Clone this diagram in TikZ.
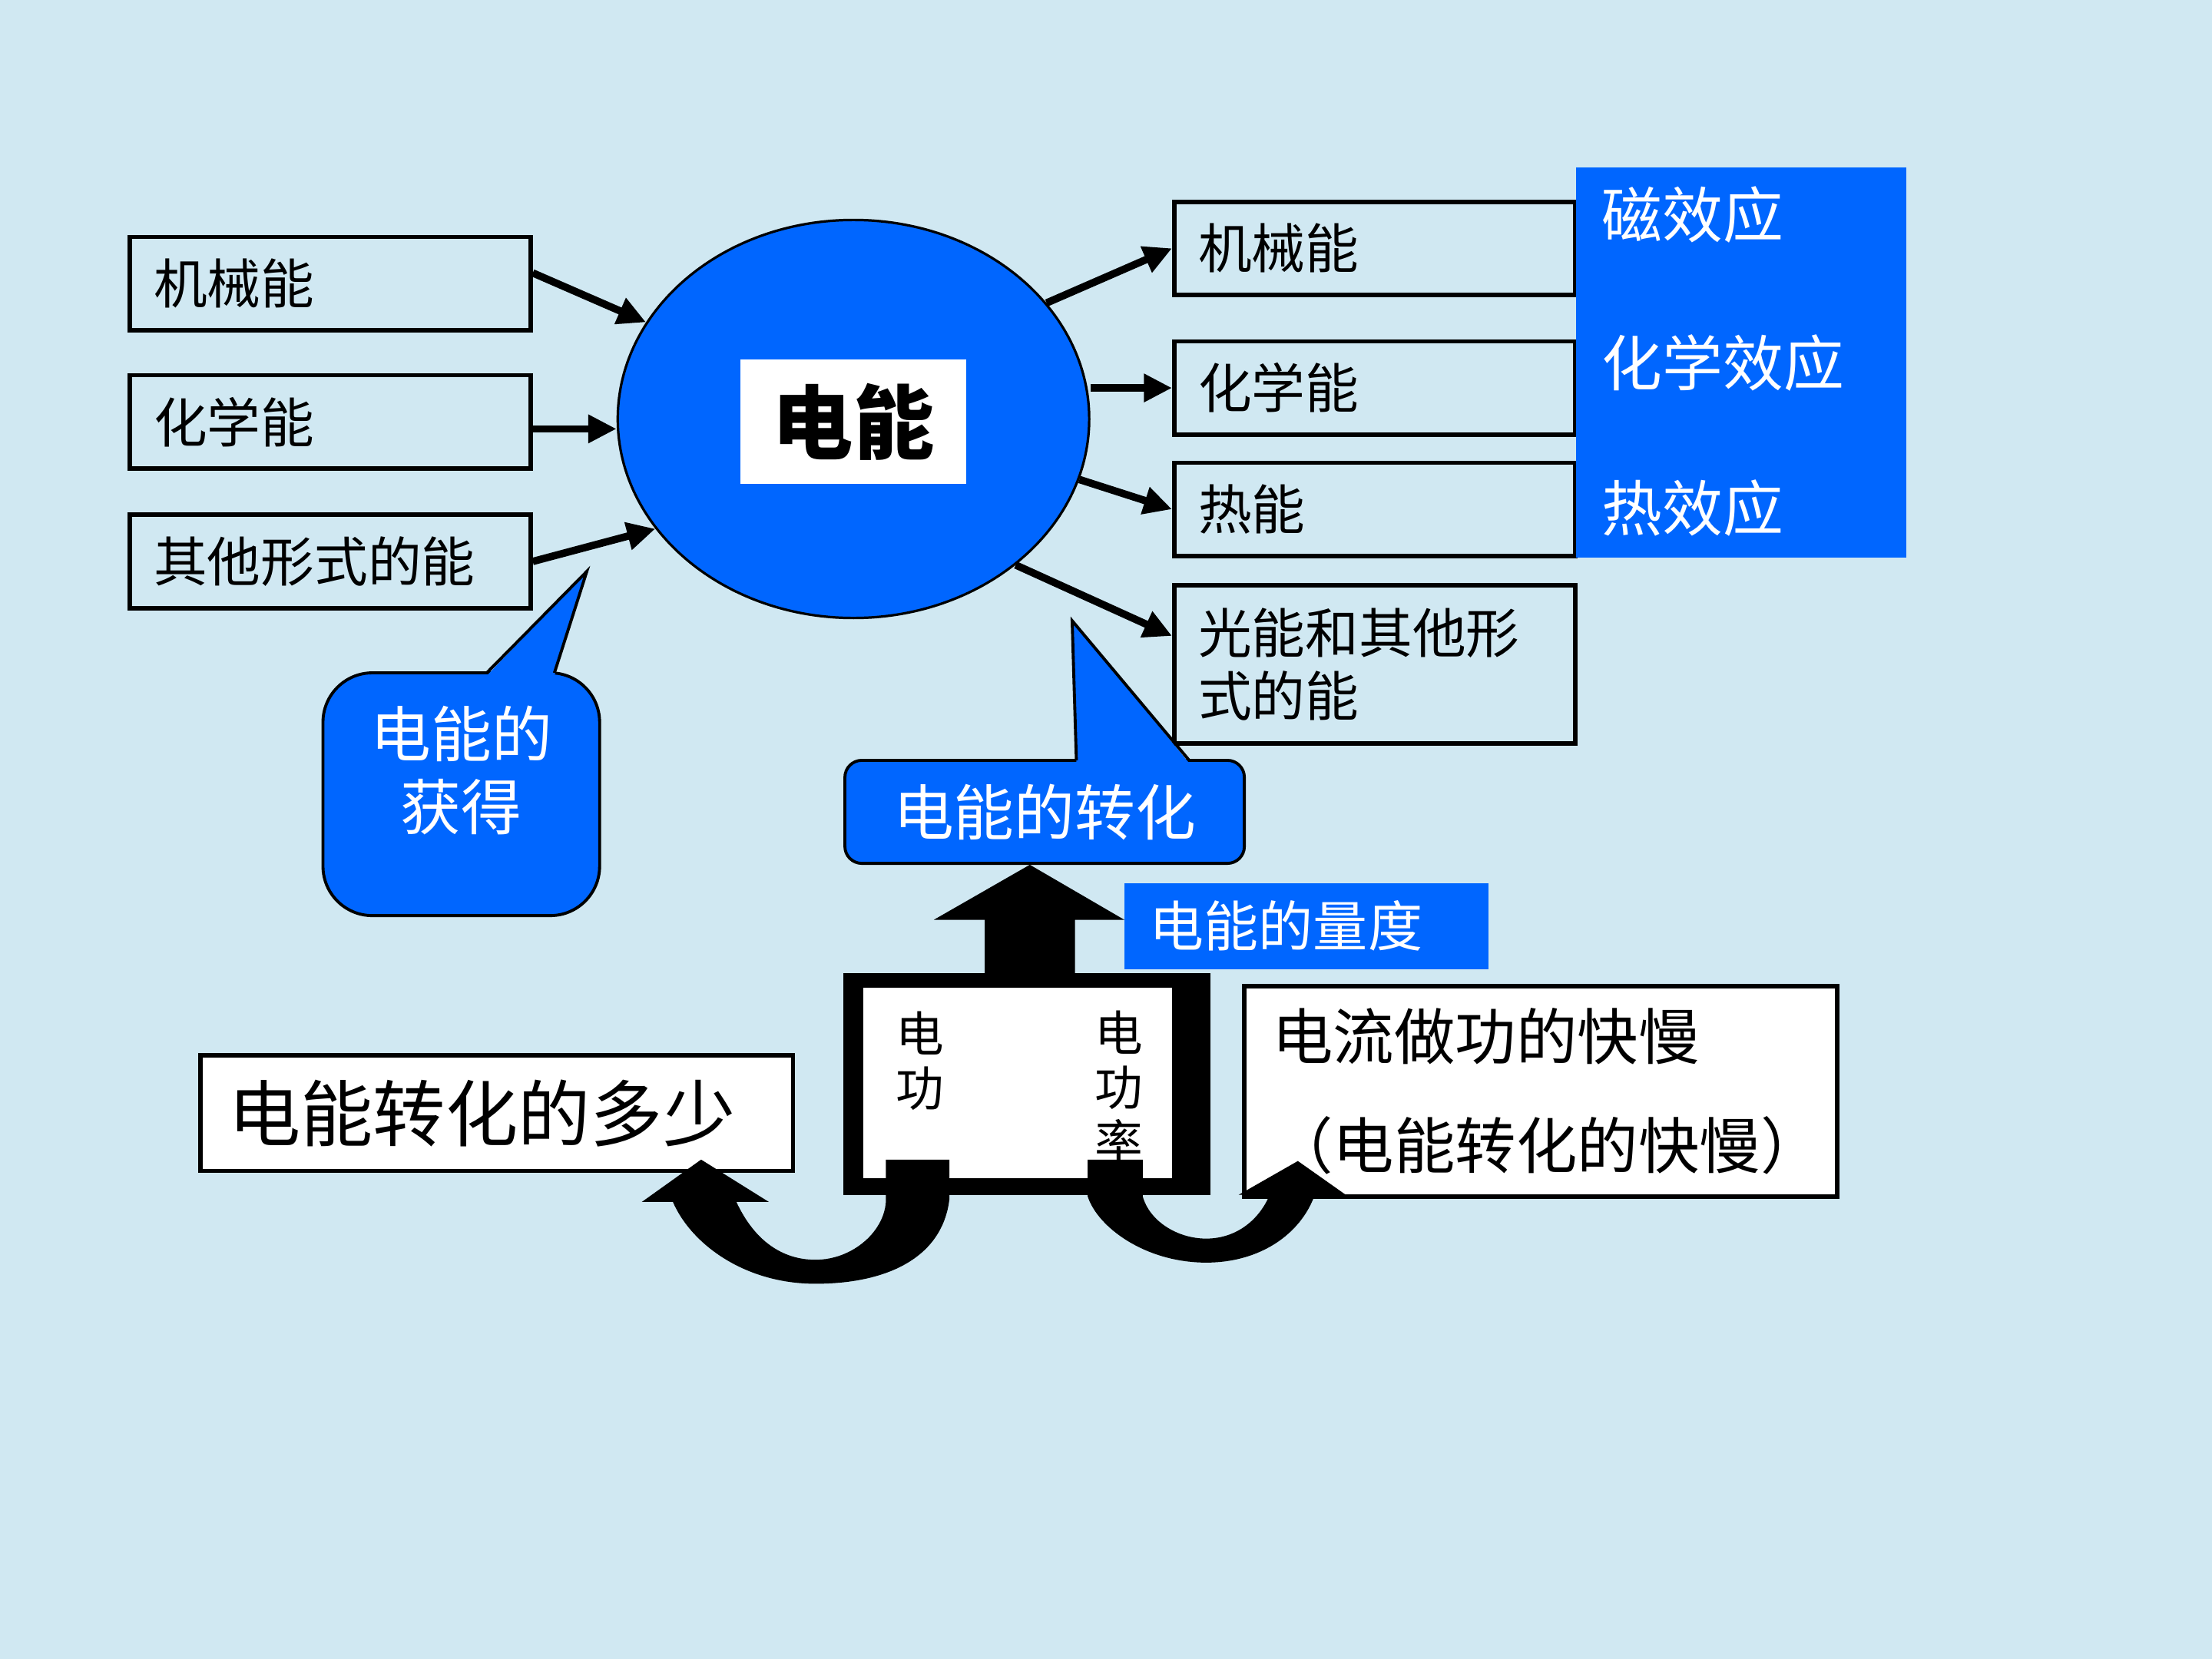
\documentclass[tikz,border=0pt]{standalone}
\usepackage{fontspec}
\usepackage{tikz}
\usetikzlibrary{arrows.meta,shapes.geometric,positioning}
\newfontfamily\cjk{Noto Sans CJK SC}
\definecolor{bgblue}{RGB}{208,232,242}
\definecolor{eblue}{RGB}{0,102,255}

\begin{document}
\begin{tikzpicture}[x=0.01cm,y=-0.01cm,
	every node/.style={font=\cjk},
	ebox/.style={draw=black, line width=0.9pt, minimum height=0.66cm, text width=2.5cm, inner xsep=0.17cm, align=left, font=\cjk\fontsize{10.8}{12.8}\selectfont},
	wbox/.style={draw=black, fill=white, line width=0.9pt, inner xsep=0.2cm, align=left},
	conn/.style={-{Triangle[length=0.2cm,width=0.19cm]}, line width=1.5pt},
	callbox/.style={draw=black, line width=0.6pt, fill=eblue, rounded corners=0.35cm},
	wtext/.style={inner sep=0pt, text=white, font=\cjk\fontsize{12.2}{14.8}\selectfont},
	vtext/.style={inner sep=0pt, align=center, font=\cjk\fontsize{9.7}{11}\selectfont}]
			\fill[bgblue] (0,0) rectangle (1568,1176);
			\useasboundingbox (0,0) rectangle (1568,1176);

			\node[ebox] (m1) at (234,201) {机械能};
			\node[ebox] (m2) at (234,299) {化学能};
			\node[ebox] (m3) at (234,398) {其他形式的能};

			\node[ellipse, draw=black, line width=0.5pt, fill=eblue, minimum width=3.34cm, minimum height=2.82cm] (elec) at (605,297) {};
			\node[fill=white, minimum width=1.6cm, minimum height=0.88cm, font=\cjk\bfseries\fontsize{16.3}{18}\selectfont] (ename) at (605,299) {电能};

			\node[ebox] (r1) at (974.5,176) {机械能};
			\node[ebox] (r2) at (974.5,275) {化学能};
			\node[ebox] (r3) at (974.5,361) {热能};
			\node[ebox, minimum height=1.12cm] (r4) at (974.5,471) {光能和其他形\\式的能};

			\node[fill=eblue, minimum width=2.34cm, minimum height=2.76cm] (eff) at (1234,257) {};
			\node[wtext, anchor=west] (e1) at (1135,152) {磁效应};
			\node[wtext, anchor=west] (e2) at (1135,257) {化学效应};
			\node[wtext, anchor=west] (e3) at (1135,360) {热效应};

			\draw[conn] (m1.3) -- (elec.155);
			\draw[conn] (m2.-2) -- (m2.-2 -| elec.west);
			\draw[conn] (m3.east) -- (elec.209);
			\draw[conn] (elec.31) -- (r1.west);
			\draw[conn] (r2.west -| elec.east) -- (r2.west);
			\draw[conn] (elec.-15) -- (r3.west);
			\draw[conn] (elec.-42) -- (r4.172);

			\node[callbox, minimum width=1.96cm, minimum height=1.72cm] (get) at (327,563) {};
			\fill[eblue] (345,479) -- (416,405) -- (393,479) -- cycle;
			\draw[line width=0.6pt] (345,477) -- (416,405) -- (393,477);
			\node[wtext, align=center] (gettext) at (327,546) {电能的\\获得};

			\node[callbox, rounded corners=0.12cm, minimum width=2.83cm, minimum height=0.73cm, text=white, font=\cjk\fontsize{12.2}{14}\selectfont] (trans) at (740.5,575.5) {电能的转化};
			\fill[eblue] (763,541) -- (760,440) -- (843,541) -- cycle;
			\draw[line width=0.6pt] (763,539) -- (760,440) -- (843,539);

			\fill[black] (698,690) -- (698,652) -- (662,652) -- (730,613) -- (797,652) -- (762,652) -- (762,690) -- cycle;

			\node[fill=eblue, minimum width=2.58cm, minimum height=0.61cm, text width=2.22cm, inner xsep=0.18cm, align=left, text=white, font=\cjk\fontsize{11}{13}\selectfont] (measure) at (926,656.5) {电能的量度};

			\node[fill=black, inner sep=0pt, minimum width=2.6cm, minimum height=1.57cm] (work) at (728,768.5) {};
			\node[fill=white, inner sep=0pt, minimum width=2.19cm, minimum height=1.35cm] (workin) at (721.5,767.5) {};
			\node[vtext] (w1) at (652,752) {电\\功};
			\node[vtext] (w2) at (793,771) {电\\功\\率};

			\node[wbox, minimum width=4.2cm, minimum height=0.82cm, text width=3.8cm, font=\cjk\fontsize{14.6}{17}\selectfont] (amount) at (352,789) {电能转化的多少};
			\node[wbox, minimum width=4.2cm, minimum height=1.49cm, text width=3.8cm, font=\cjk\fontsize{12.3}{21.9}\selectfont] (rate) at (1092,773.5) {电流做功的快慢\\（电能转化的快慢）};

			\fill[black] (628,822) -- (673,822) -- (673,850) .. controls (668,892) and (628,910) .. (578,910) .. controls (528,910) and (490,882) .. (477,852) -- (455,852) -- (497,822) -- (545,852) -- (522,852) .. controls (535,880) and (555,893) .. (578,893) .. controls (605,893) and (628,872) .. (628,850) -- cycle;
			\fill[black] (771,822) -- (810,822) -- (810,848) .. controls (815,866) and (835,878) .. (855,878) .. controls (877,878) and (893,864) .. (900,847) -- (878,847) -- (920,823) -- (954,847) -- (932,847) .. controls (922,875) and (893,895) .. (855,895) .. controls (812,895) and (778,870) .. (771,848) -- cycle;
		\end{tikzpicture}
\end{document}
